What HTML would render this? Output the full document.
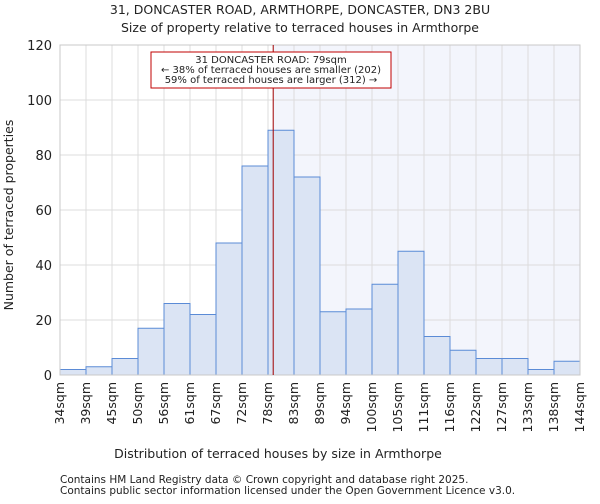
<!DOCTYPE html>
<html><head><meta charset="utf-8"><style>
body{margin:0;background:#fff;font-family:"DejaVu Sans","Liberation Sans",sans-serif}
svg text{font-family:"DejaVu Sans","Liberation Sans",sans-serif;fill:#222}
</style></head><body>
<svg id="c" width="600" height="500">
<text x="300" y="14" text-anchor="middle" font-size="12.5">31, DONCASTER ROAD, ARMTHORPE, DONCASTER, DN3 2BU</text>
<text x="300" y="32" text-anchor="middle" font-size="12.5">Size of property relative to terraced houses in Armthorpe</text>
<g id="plot"></g>
<text x="278" y="458" text-anchor="middle" font-size="12.5">Distribution of terraced houses by size in Armthorpe</text>
<text transform="translate(13,215) rotate(-90)" text-anchor="middle" font-size="12.5">Number of terraced properties</text>
<text x="60" y="483" font-size="10.5">Contains HM Land Registry data © Crown copyright and database right 2025.</text>
<text x="60" y="494" font-size="10.5">Contains public sector information licensed under the Open Government Licence v3.0.</text>
</svg>
<script>
const categories=["34sqm","39sqm","45sqm","50sqm","56sqm","61sqm","67sqm","72sqm","78sqm","83sqm","89sqm","94sqm","100sqm","105sqm","111sqm","116sqm","122sqm","127sqm","133sqm","138sqm","144sqm"];
const counts=[2,3,6,17,26,22,48,76,89,72,23,24,33,45,14,9,6,6,2,5];
const yTicks=[0,20,40,60,80,100,120];
const markerValue=79;
const binStarts=[34,39,45,50,56,61,67,72,78,83,89,94,100,105,111,116,122,127,133,138,144];
const NS="http://www.w3.org/2000/svg";
const L=60,R=580,T=45,B=375,yMax=120;
const n=counts.length,bw=(R-L)/n;
const xs=i=>L+i*bw;
const ys=v=>B-v/yMax*(B-T);
function xv(v){for(let i=0;i<binStarts.length-1;i++){if(v>=binStarts[i]&&v<=binStarts[i+1])return xs(i)+(v-binStarts[i])/(binStarts[i+1]-binStarts[i])*bw;}return R;}
const g=document.getElementById('plot');
function mk(t,a,p){const e=document.createElementNS(NS,t);for(const k in a)e.setAttribute(k,a[k]);(p||g).appendChild(e);return e;}
const mx=xv(markerValue);
let sh=mk('rect',{x:mx,y:T,width:R-mx,height:B-T,fill:'#f3f5fc'});


for(let i=0;i<=n;i++){let l=mk('line',{x1:xs(i),x2:xs(i),y1:T,y2:B,stroke:'#dcdcdc','stroke-width':1});

}
yTicks.forEach(v=>{let l=mk('line',{x1:L,x2:R,y1:ys(v),y2:ys(v),stroke:'#dcdcdc','stroke-width':1});


let t=mk('text',{x:L-8,y:ys(v)+5,'text-anchor':'end','font-size':13});t.textContent=v;

});
counts.forEach((v,i)=>{let r=mk('rect',{x:xs(i),y:ys(v),width:bw,height:B-ys(v),fill:'#dbe4f4',stroke:'#5b8bd6','stroke-width':1});

});
categories.forEach((c,i)=>{let t=mk('text',{transform:`translate(${xs(i)+4},382) rotate(-90)`,'text-anchor':'end','font-size':12.5});t.textContent=c;

});
let ax=mk('rect',{x:L,y:T,width:R-L,height:B-T,fill:'none',stroke:'#c8c8c8'});


let ml=mk('line',{x1:mx,x2:mx,y1:T,y2:B,stroke:'#a00000','stroke-width':1});


const ag=mk('g',{});


mk('rect',{x:151,y:52,width:240,height:36,fill:'#fff',stroke:'#c00000'},ag);
["31 DONCASTER ROAD: 79sqm","← 38% of terraced houses are smaller (202)","59% of terraced houses are larger (312) →"].forEach((s,i)=>{let t=mk('text',{x:271,y:63+i*10,'text-anchor':'middle','font-size':10},ag);t.textContent=s;

});
</script>
</body></html>
